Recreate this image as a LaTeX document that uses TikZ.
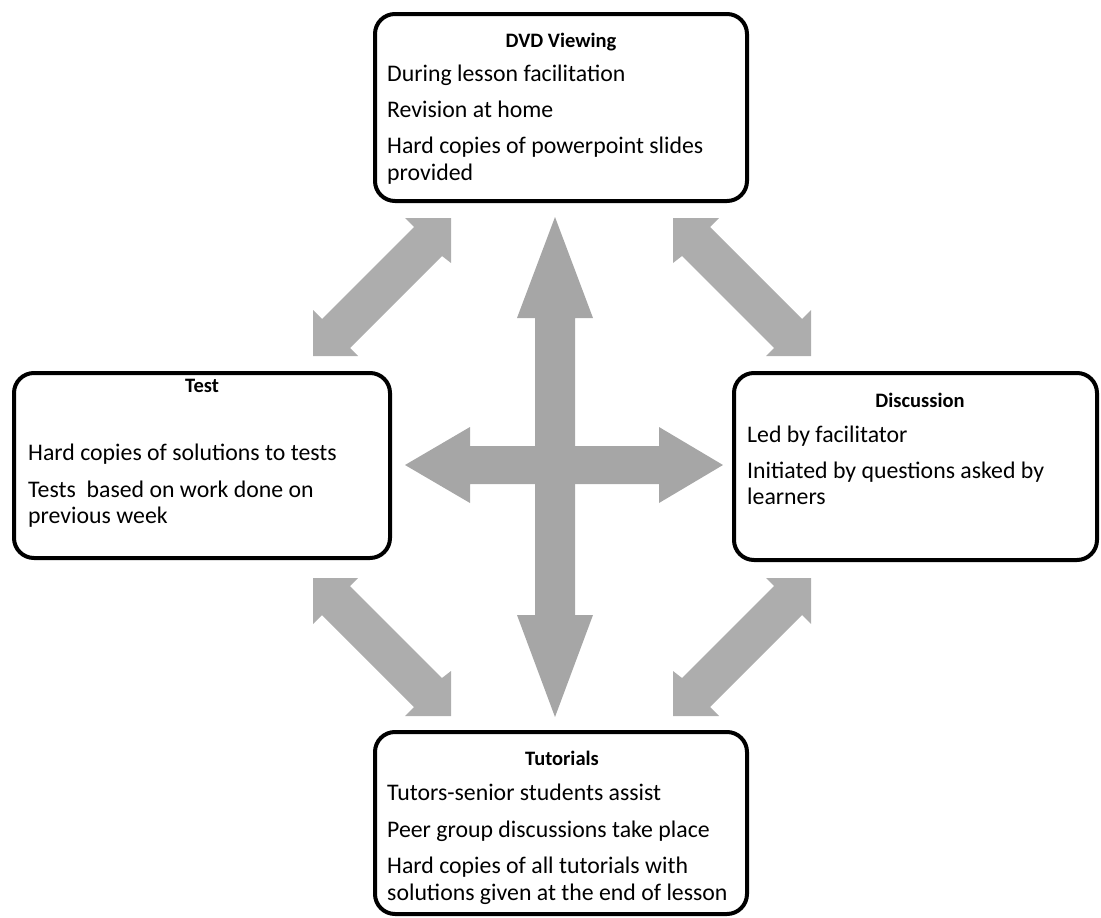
\documentclass[tikz,border=0pt]{standalone}
\usepackage{fontspec}
\setmainfont{Carlito}
\definecolor{crossgrey}{HTML}{A6A6A6}
\definecolor{diaggrey}{HTML}{ADADAD}
\begin{document}
\begin{tikzpicture}[x=1pt,y=-1pt,
  box/.style={draw=black, line width=4pt, rounded corners=20pt, fill=white, inner sep=0pt},
  ttl/.style={font=\fontsize{20.5}{24}\selectfont\bfseries, anchor=base, inner sep=0pt},
  txt/.style={font=\fontsize{23.8}{27}\selectfont, anchor=base west, inner sep=0pt},
  cross/.style={fill=crossgrey, draw=none},
  diag/.style={fill=diaggrey, draw=none}]
\useasboundingbox (0,0) rectangle (1101,918);

% block arrows
\fill[cross] (555,217) -- (593,318) -- (575,318) -- (575,615) -- (593,615) -- (555,717)
  -- (517,615) -- (535,615) -- (535,318) -- (517,318) -- cycle;
\fill[cross] (405,465) -- (470,427) -- (470,446) -- (659,446) -- (659,427) -- (723,465)
  -- (659,503) -- (659,484) -- (470,484) -- (470,503) -- cycle;
% Test <-> DVD
\fill[diag] (451,218) -- (451,263) -- (442,256) -- (350,348) -- (358,356) -- (313,356)
  -- (313,310) -- (322,319) -- (414,227) -- (405,218) -- cycle;
% DVD <-> Discussion
\fill[diag] (673,218) -- (673,263) -- (682,256) -- (774,348) -- (766,356) -- (811,356)
  -- (811,310) -- (802,319) -- (710,227) -- (719,218) -- cycle;
% Test <-> Tutorials
\fill[diag] (451,716) -- (451,671) -- (442,678) -- (350,586) -- (358,578) -- (313,578)
  -- (313,624) -- (322,615) -- (414,707) -- (405,716) -- cycle;
% Discussion <-> Tutorials
\fill[diag] (673,716) -- (673,671) -- (682,678) -- (774,586) -- (766,578) -- (811,578)
  -- (811,624) -- (802,615) -- (710,707) -- (719,716) -- cycle;

% boxes
\node[box, minimum width=372pt, minimum height=187pt] (dvd) at (561,107.5) {};
\node[box, minimum width=376pt, minimum height=185pt] (test) at (202,465.5) {};
\node[box, minimum width=363pt, minimum height=187pt] (disc) at (915.5,466.5) {};
\node[box, minimum width=372pt, minimum height=182pt] (tut) at (561,823) {};

% DVD Viewing
\node[ttl] (dvdT) at (561,47) {DVD Viewing};
\node[txt] (dvdA) at (387,81) {During lesson facilitation};
\node[txt] (dvdB) at (387,117) {Revision at home};
\node[txt] (dvdC) at (387,153) {Hard copies of powerpoint slides};
\node[txt] (dvdD) at (387,180) {provided};

% Test
\node[ttl] (testT) at (202,392) {Test};
\node[txt] (testA) at (28,460) {Hard copies of solutions to tests};
\node[txt] (testB) at (28,497) {Tests~ based on work done on};
\node[txt] (testC) at (28,523) {previous week};

% Discussion
\node[ttl] (discT) at (920,407) {Discussion};
\node[txt] (discA) at (747,442) {Led by facilitator};
\node[txt] (discB) at (747,478) {Initiated by questions asked by};
\node[txt] (discC) at (747,504) {learners};

% Tutorials
\node[ttl] (tutT) at (562,765) {Tutorials};
\node[txt] (tutA) at (387,800) {Tutors-senior students assist};
\node[txt] (tutB) at (387,837) {Peer group discussions take place};
\node[txt] (tutC) at (387,873) {Hard copies of all tutorials with};
\node[txt] (tutD) at (387,900) {solutions given at the end of lesson};
\end{tikzpicture}
\end{document}
